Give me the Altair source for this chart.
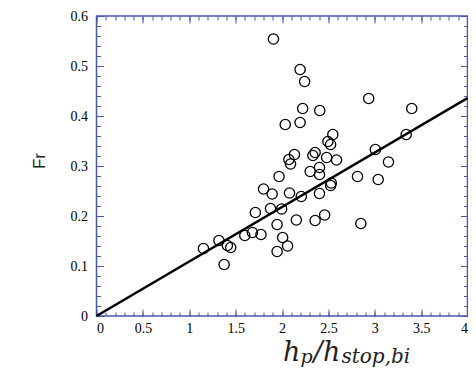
import altair as alt
import pandas as pd

# ---- data ----
x_vals = [1.908, 2.195, 2.244, 2.935, 3.399, 2.223, 2.407, 2.035, 2.195, 2.548,
          2.495, 2.524, 3.339, 3.006, 3.148, 2.134, 2.074, 2.092, 2.357, 2.333,
          2.481, 2.588, 2.304, 2.404, 2.404, 1.968, 2.814, 3.037, 2.531, 2.524,
          1.801, 1.894, 2.081, 2.208, 2.404, 1.713, 1.876, 1.996, 2.155, 2.357,
          2.460, 2.850, 1.947, 1.599, 1.681, 1.773, 2.007, 2.060, 1.947, 1.320,
          1.411, 1.447, 1.153, 1.376]
fr_vals = [0.554, 0.493, 0.469, 0.435, 0.415, 0.415, 0.411, 0.383, 0.387, 0.363,
           0.349, 0.343, 0.363, 0.333, 0.308, 0.323, 0.313, 0.304, 0.327, 0.321,
           0.317, 0.312, 0.289, 0.297, 0.283, 0.279, 0.279, 0.273, 0.266, 0.261,
           0.254, 0.244, 0.246, 0.239, 0.245, 0.207, 0.215, 0.214, 0.192, 0.191,
           0.202, 0.185, 0.183, 0.161, 0.167, 0.163, 0.157, 0.140, 0.129, 0.151,
           0.141, 0.137, 0.135, 0.103]
fit_x = [0.0, 4.0]
fit_y = [0.0, 0.436]

x_major = [0, 0.5, 1, 1.5, 2, 2.5, 3, 3.5, 4]
x_minor = [i / 10 for i in range(0, 41)]
y_major = [0, 0.1, 0.2, 0.3, 0.4, 0.5, 0.6]
y_minor = [i / 50 for i in range(0, 31)]

title_parts = ["h", "p", "/", "h", "stop,bi"]
y_title = "Fr"

BLUE = "#4c56a8"
SERIF = "Liberation Serif"
MATH = "DejaVu Serif"

pts = pd.DataFrame({"x": x_vals, "fr": fr_vals})
fit = pd.DataFrame({"x": fit_x, "fr": fit_y})

xs = alt.Scale(domain=[0, 4], nice=False, zero=False)
ys = alt.Scale(domain=[0, 0.6], nice=False, zero=False)


def tick_layer(orient_x, orient_y, xv, yv, size):
    return alt.Chart(pts).mark_point(opacity=0).encode(
        x=alt.X("x:Q", scale=xs, axis=alt.Axis(
            orient=orient_x, values=xv, tickSize=size, offset=-size,
            labels=False, domain=False, grid=False, title=None,
            tickColor=BLUE, tickWidth=1)),
        y=alt.Y("fr:Q", scale=ys, axis=alt.Axis(
            orient=orient_y, values=yv, tickSize=size, offset=-size,
            labels=False, domain=False, grid=False, title=None,
            tickColor=BLUE, tickWidth=1)),
    )


points = alt.Chart(pts).mark_point(
    shape="circle", filled=False, color="black", strokeWidth=1.3, size=105, opacity=1
).encode(
    x=alt.X("x:Q", scale=xs, axis=alt.Axis(
        orient="bottom", values=x_major, format="~g", ticks=False, domain=False,
        grid=False, title=None, labelPadding=5, labelFont=SERIF,
        labelFontSize=14, labelColor="black")),
    y=alt.Y("fr:Q", scale=ys, axis=alt.Axis(
        orient="left", values=y_major, format="~g", ticks=False, domain=False,
        grid=False, title=None, labelPadding=9, labelFont=SERIF,
        labelFontSize=14, labelColor="black")),
)

line = alt.Chart(fit).mark_line(color="black", strokeWidth=2.5).encode(
    x=alt.X("x:Q", scale=xs, axis=None),
    y=alt.Y("fr:Q", scale=ys, axis=None),
)

layers = [
    line,
    points,
    tick_layer("bottom", "left", x_major, y_major, 7),
    tick_layer("bottom", "left", x_minor, y_minor, 4),
    tick_layer("top", "right", x_major, y_major, 7),
    tick_layer("top", "right", x_minor, y_minor, 4),
]

# title pieces (math-style x title)
specs = [
    (title_parts[0], 186.5, 345, 27),
    (title_parts[1], 204.0, 347, 19),
    (title_parts[2], 217.0, 345, 27),
    (title_parts[3], 226.5, 345, 27),
    (title_parts[4], 245.0, 347, 20),
]
for t, px, py, fs in specs:
    layers.append(
        alt.Chart(pd.DataFrame({"t": [t]})).mark_text(
            font=MATH, fontStyle="italic", fontSize=fs,
            align="left", baseline="alphabetic", color="#222222"
        ).encode(text="t:N", x=alt.value(px), y=alt.value(py))
    )

layers.append(
    alt.Chart(pd.DataFrame({"t": [y_title]})).mark_text(
        font="Liberation Sans", fontSize=17, angle=270, align="center",
        baseline="middle", color="#222222"
    ).encode(text="t:N", x=alt.value(-56.5), y=alt.value(145))
)

chart = alt.layer(*layers).resolve_axis(
    x="independent", y="independent"
).properties(
    width=371, height=300,
    autosize=alt.AutoSizeParams(type="none"),
    padding={"left": 88.5, "top": 8, "right": 0, "bottom": 52},
).configure(
    font=SERIF
).configure_axis(
    labelFont=SERIF
).configure_view(
    stroke=BLUE, strokeWidth=1.5
)

chart.save("out.html", embed_options={"renderer": "svg", "actions": False})
